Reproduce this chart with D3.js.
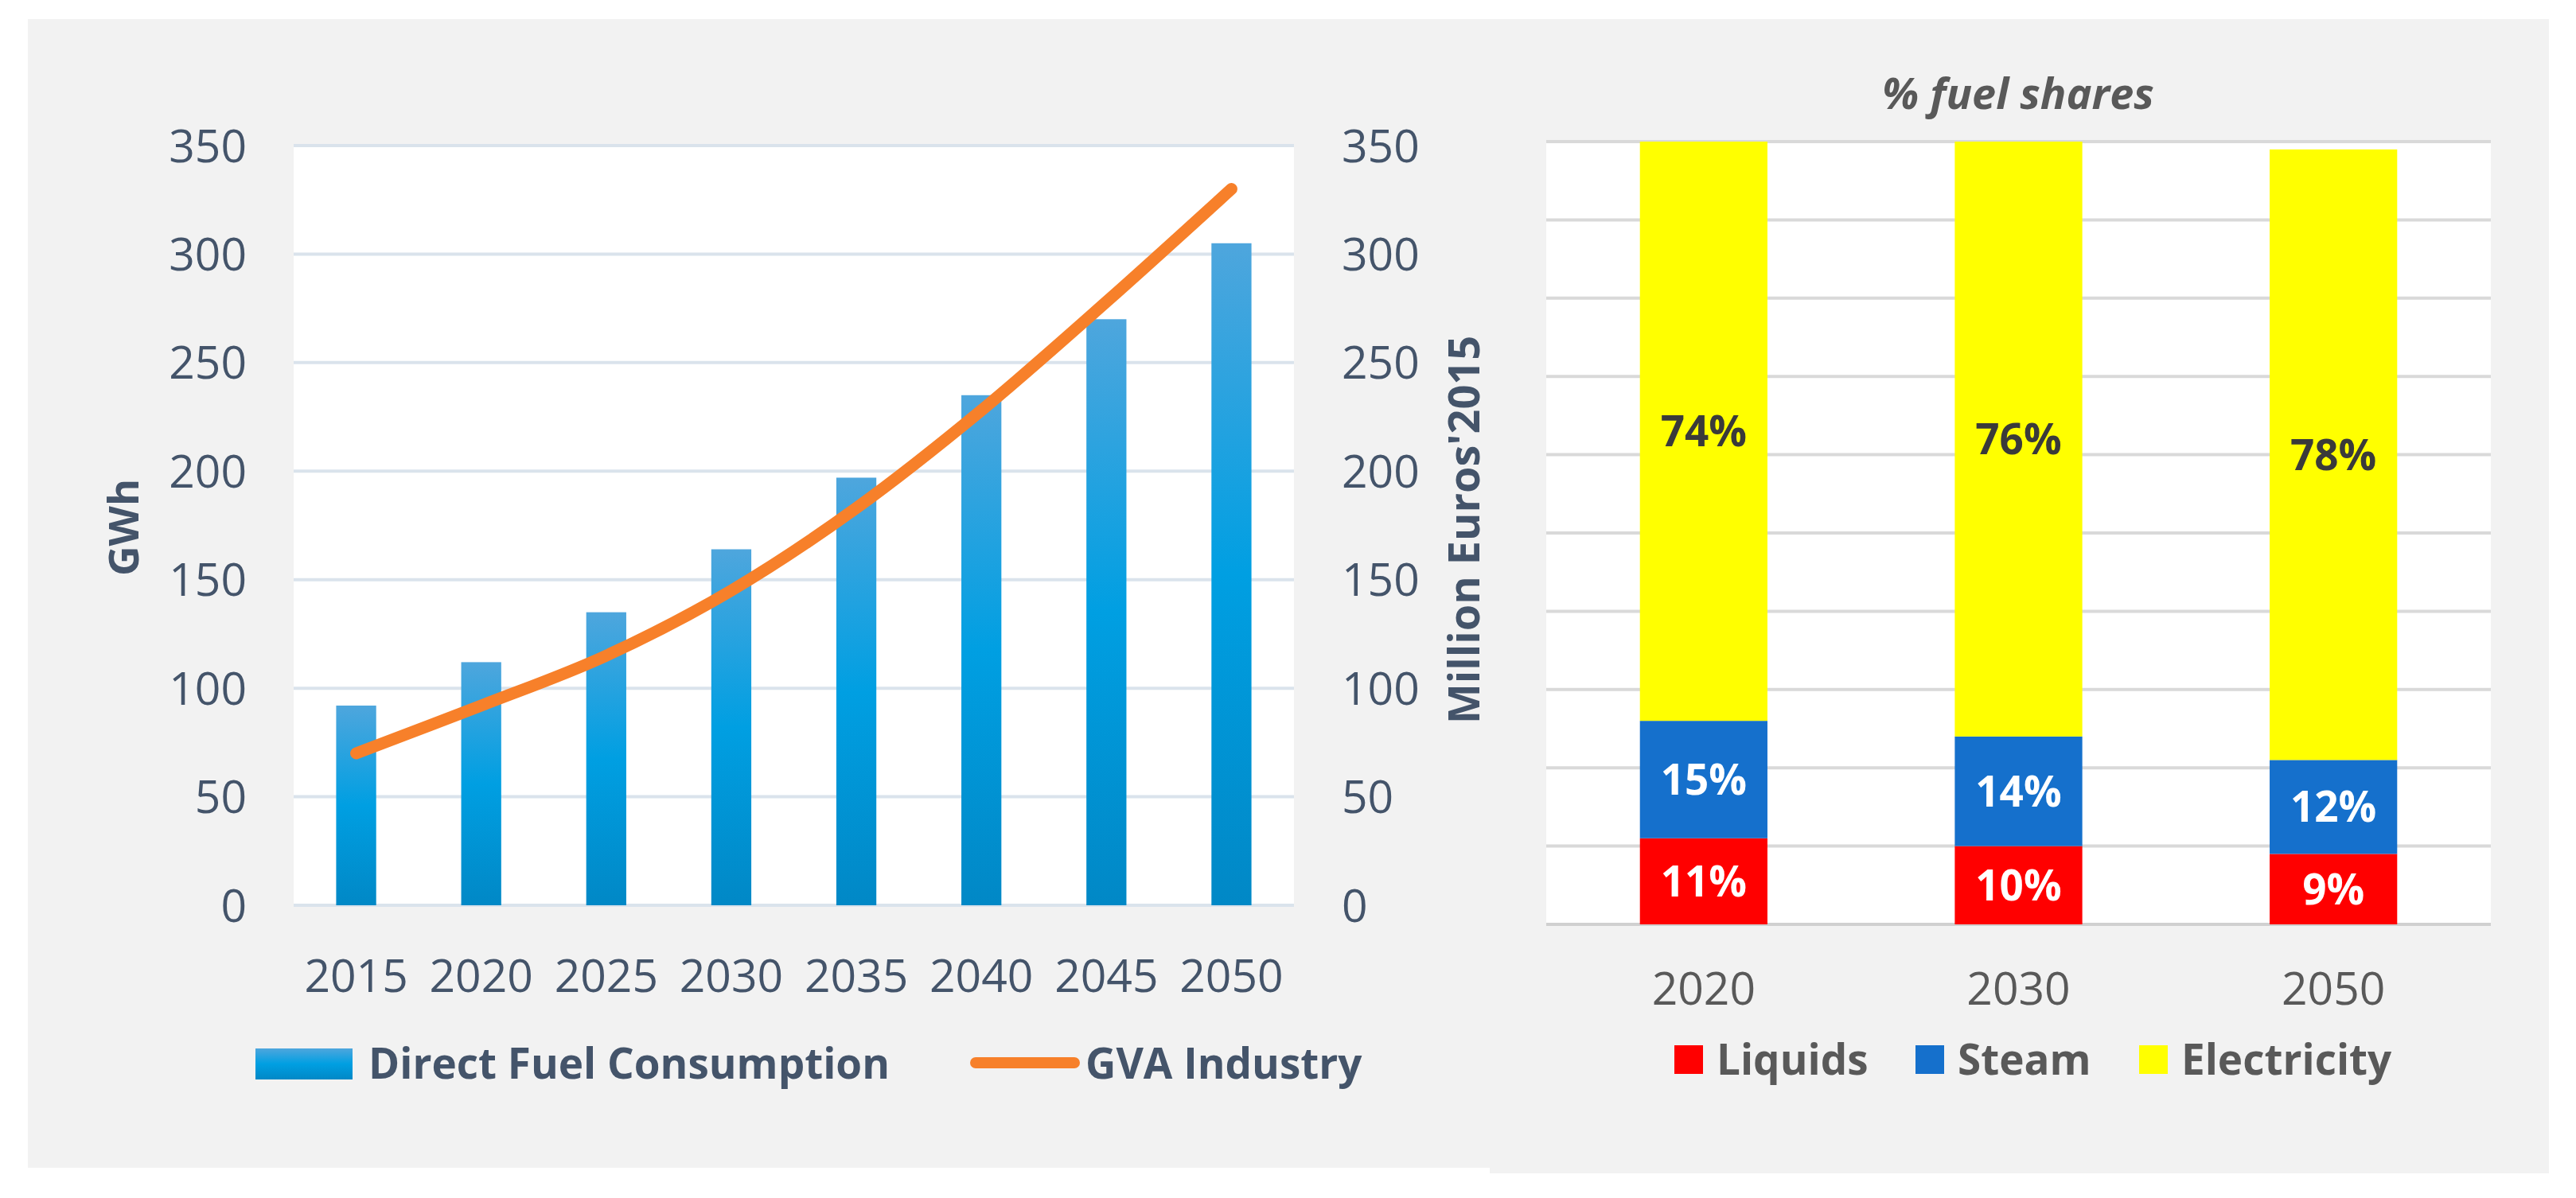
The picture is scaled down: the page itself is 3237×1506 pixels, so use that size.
<!DOCTYPE html>
<html>
<head>
<meta charset="utf-8">
<script src="https://cdn.jsdelivr.net/npm/d3@7"></script>
<style>
body { margin: 0; background: #fff; }
text { font-family: "Open Sans", sans-serif; }
</style>
</head>
<body>
<svg width="3237" height="1506"></svg>
<script>
// left chart data
var years = ["2015", "2020", "2025", "2030", "2035", "2040", "2045", "2050"];
var fuelConsumption = [92, 112, 135, 164, 197, 235, 270, 305];
var gvaIndustry = [70, 92, 115, 145, 183, 228, 278, 330];
var yTicks = [0, 50, 100, 150, 200, 250, 300, 350];

// right chart data
var shareYears = ["2020", "2030", "2050"];
var liquids = [11, 10, 9];
var steam = [15, 14, 12];
var electricity = [74, 76, 78];
var fuels = ["Liquids", "Steam", "Electricity"];
var fuelColors = ["#ff0000", "#1570cc", "#ffff00"];

var svg = d3.select("svg");

// panel backgrounds
svg.append("rect").attr("x", 35).attr("y", 24).attr("width", 1837).attr("height", 1444).attr("fill", "#f2f2f2");
svg.append("rect").attr("x", 1872).attr("y", 24).attr("width", 1331).attr("height", 1451).attr("fill", "#f2f2f2");

// ---------- left chart ----------
var L = {left: 369, right: 1626, top: 183, bottom: 1138};
var axisColor = "#44546a";

var x = d3.scaleBand().domain(years).range([L.left, L.right]).paddingInner(0.68).paddingOuter(0.34);
var y = d3.scaleLinear().domain([0, 350]).range([L.bottom, L.top]);
var xc = d => x(d) + x.bandwidth() / 2;

var defs = svg.append("defs");
var grad = defs.append("linearGradient").attr("id", "barGrad")
	.attr("x1", 0).attr("y1", 0).attr("x2", 0).attr("y2", 1);
grad.append("stop").attr("offset", "0%").attr("stop-color", "#4ea6dd");
grad.append("stop").attr("offset", "50%").attr("stop-color", "#009fe2");
grad.append("stop").attr("offset", "100%").attr("stop-color", "#0188c6");

var left = svg.append("g");
left.append("rect").attr("x", L.left).attr("y", L.top)
	.attr("width", L.right - L.left).attr("height", L.bottom - L.top).attr("fill", "#fff");

left.selectAll(".grid")
	.data(yTicks)
	.enter().append("line")
	.attr("x1", L.left).attr("x2", L.right)
	.attr("y1", d => y(d)).attr("y2", d => y(d))
	.attr("stroke", "#dae3ec").attr("stroke-width", 4);

left.selectAll(".bar")
	.data(fuelConsumption)
	.enter().append("rect")
	.attr("x", (d, i) => x(years[i]))
	.attr("y", d => y(d))
	.attr("width", x.bandwidth())
	.attr("height", d => y(0) - y(d))
	.attr("fill", "url(#barGrad)");

var line = d3.line()
	.x((d, i) => xc(years[i]))
	.y(d => y(d))
	.curve(d3.curveCatmullRom.alpha(0));

left.append("path")
	.attr("d", line(gvaIndustry))
	.attr("fill", "none")
	.attr("stroke", "#f7802a")
	.attr("stroke-width", 15)
	.attr("stroke-linecap", "round");

// axes as text
left.selectAll(".ytl")
	.data(yTicks)
	.enter().append("text")
	.attr("x", 310).attr("y", d => y(d)).attr("dy", "0.36em")
	.attr("text-anchor", "end")
	.attr("font-size", 57).attr("fill", axisColor)
	.text(d => d);

left.selectAll(".ytr")
	.data(yTicks)
	.enter().append("text")
	.attr("x", 1686).attr("y", d => y(d)).attr("dy", "0.36em")
	.attr("font-size", 57).attr("fill", axisColor)
	.text(d => d);

left.selectAll(".xt")
	.data(years)
	.enter().append("text")
	.attr("x", d => xc(d)).attr("y", 1226).attr("dy", "0.36em")
	.attr("text-anchor", "middle")
	.attr("font-size", 57).attr("fill", axisColor)
	.text(d => d);

left.append("text")
	.attr("transform", "translate(155,663) rotate(-90)")
	.attr("text-anchor", "middle").attr("dy", "0.36em")
	.attr("font-size", 52).attr("font-weight", "bold").attr("fill", axisColor)
	.text("GWh");

left.append("text")
	.attr("transform", "translate(1840,666) rotate(-90)")
	.attr("text-anchor", "middle").attr("dy", "0.36em")
	.attr("font-size", 54).attr("font-weight", "bold").attr("fill", axisColor)
	.text("Million Euros'2015");

// legend
left.append("rect").attr("x", 321).attr("y", 1318).attr("width", 122).attr("height", 39).attr("fill", "url(#barGrad)");
left.append("text").attr("x", 463).attr("y", 1337).attr("dy", "0.36em")
	.attr("font-size", 53).attr("font-weight", "bold").attr("fill", axisColor)
	.text("Direct Fuel Consumption");
left.append("line").attr("x1", 1226).attr("x2", 1350).attr("y1", 1336).attr("y2", 1336)
	.attr("stroke", "#f7802a").attr("stroke-width", 14).attr("stroke-linecap", "round");
left.append("text").attr("x", 1364).attr("y", 1337).attr("dy", "0.36em")
	.attr("font-size", 53).attr("font-weight", "bold").attr("fill", axisColor)
	.text("GVA Industry");

// ---------- right chart ----------
var R = {left: 1943, right: 3130, top: 178, bottom: 1162};
var greyText = "#595959";

var x2 = d3.scaleBand().domain(shareYears).range([R.left, R.right]).paddingInner(0.595).paddingOuter(0.2975);
var y2 = d3.scaleLinear().domain([0, 100]).range([R.bottom, R.top]);

var right = svg.append("g");
right.append("rect").attr("x", R.left).attr("y", R.top)
	.attr("width", R.right - R.left).attr("height", R.bottom - R.top).attr("fill", "#fff");

right.selectAll(".grid")
	.data(d3.range(0, 101, 10))
	.enter().append("line")
	.attr("x1", R.left).attr("x2", R.right)
	.attr("y1", d => y2(d)).attr("y2", d => y2(d))
	.attr("stroke", d => d == 0 ? "#d0d0d0" : "#d9d9d9").attr("stroke-width", 4);

var rows = shareYears.map((yr, i) => ({year: yr, Liquids: liquids[i], Steam: steam[i], Electricity: electricity[i]}));
var stack = d3.stack().keys(fuels)(rows);

var layer = right.selectAll(".layer")
	.data(stack)
	.enter().append("g")
	.attr("fill", (d, i) => fuelColors[i]);

layer.selectAll("rect")
	.data(d => d)
	.enter().append("rect")
	.attr("x", d => x2(d.data.year))
	.attr("y", d => y2(d[1]))
	.attr("width", x2.bandwidth())
	.attr("height", d => y2(d[0]) - y2(d[1]));

layer.selectAll("text")
	.data(d => d.map(p => ({p: p, key: d.key})))
	.enter().append("text")
	.attr("x", d => x2(d.p.data.year) + x2.bandwidth() / 2)
	.attr("y", d => (y2(d.p[0]) + y2(d.p[1])) / 2)
	.attr("dy", "0.36em")
	.attr("text-anchor", "middle")
	.attr("font-size", 53).attr("font-weight", "bold")
	.attr("fill", d => d.key == "Electricity" ? "#3a3a3a" : "#fff")
	.text(d => d.p.data[d.key] + "%");

right.selectAll(".xt")
	.data(shareYears)
	.enter().append("text")
	.attr("x", d => x2(d) + x2.bandwidth() / 2).attr("y", 1242).attr("dy", "0.36em")
	.attr("text-anchor", "middle")
	.attr("font-size", 57).attr("fill", greyText)
	.text(d => d);

right.append("text")
	.attr("x", 2536).attr("y", 118).attr("dy", "0.36em")
	.attr("text-anchor", "middle")
	.attr("font-size", 54).attr("font-weight", "bold").attr("font-style", "italic")
	.attr("fill", greyText)
	.text("% fuel shares");

// legend
var legX = [2104, 2407, 2688];
var leg = right.selectAll(".leg")
	.data(fuels)
	.enter().append("g")
	.attr("transform", (d, i) => "translate(" + legX[i] + ",1332)");
leg.append("rect").attr("x", 0).attr("y", -18).attr("width", 36).attr("height", 36)
	.attr("fill", (d, i) => fuelColors[i]);
leg.append("text").attr("x", 53).attr("y", 0).attr("dy", "0.36em")
	.attr("font-size", 53).attr("font-weight", "bold").attr("fill", greyText)
	.text(d => d);
</script>
</body>
</html>
